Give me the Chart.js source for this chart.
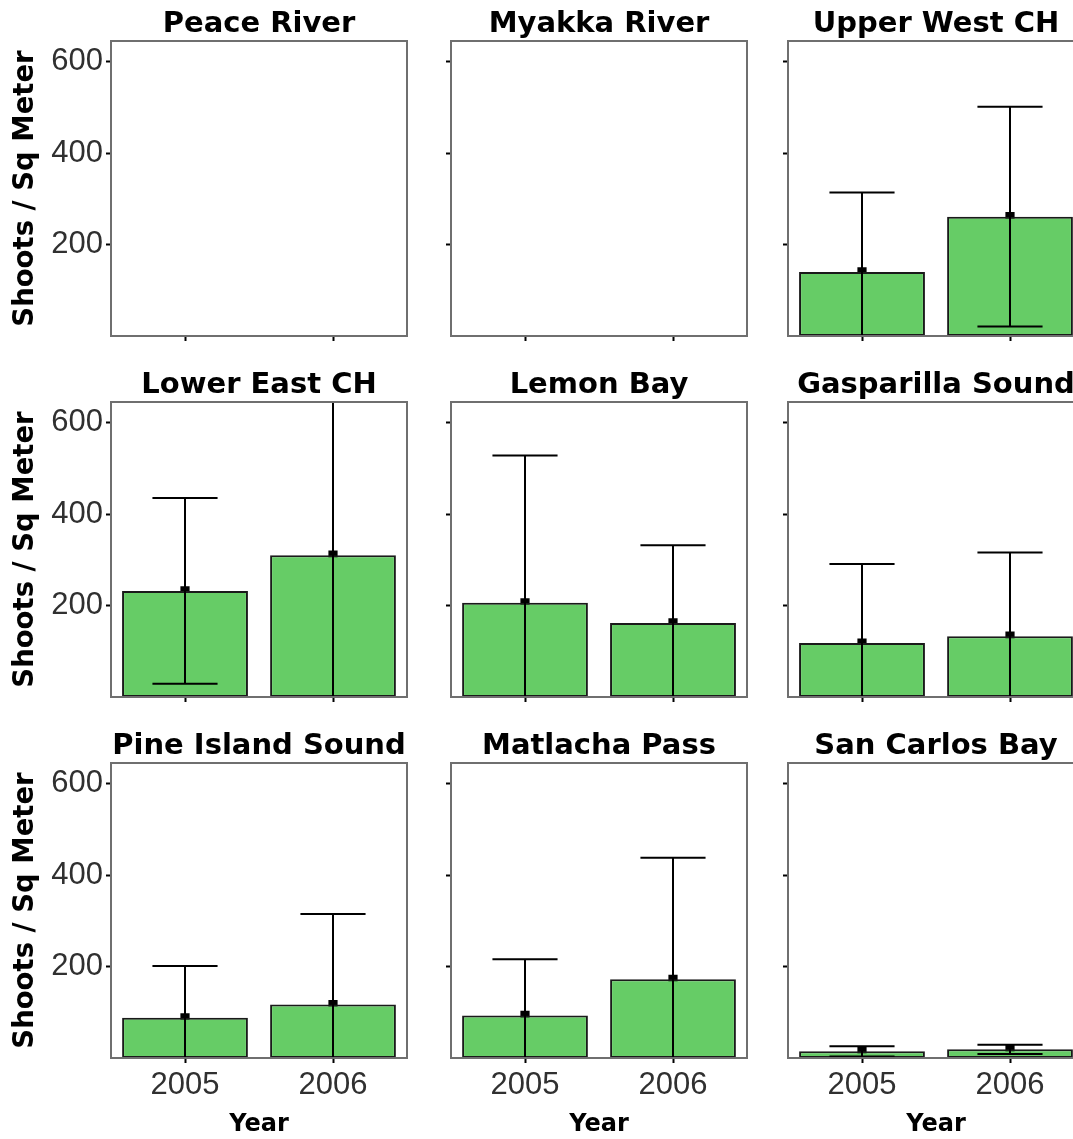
<!DOCTYPE html>
<html>
<head>
<meta charset="utf-8">
<title>Shoots per square meter by region</title>
<script src="https://cdn.jsdelivr.net/npm/chart.js@4.4.1/dist/chart.umd.min.js"></script>
<style>
  html, body { margin: 0; padding: 0; background: #fff; overflow: hidden; }
  #grid { position: relative; width: 1073px; height: 1139px; overflow: hidden; background: #fff; }
  #grid canvas { position: absolute; }
</style>
</head>
<body>
<div id="grid"></div>
<script>
// Mean shoot density (shoots / m²) with ±1 SD, by region and year
const regions = ['Peace River', 'Myakka River', 'Upper West CH',
                 'Lower East CH', 'Lemon Bay', 'Gasparilla Sound',
                 'Pine Island Sound', 'Matlacha Pass', 'San Carlos Bay'];
const years = ['2005', '2006'];
const mean2005 = [null, null, 140, 232, 206, 118, 88, 93, 14.5];
const mean2006 = [null, null, 261, 310, 162, 133, 117, 172, 19];
const sd2005   = [null, null, 174, 203, 322, 173, 113, 123, 11];
const sd2006   = [null, null, 240, 360, 170, 183, 198, 266, 10];
const yTicks = [200, 400, 600];
const yMax = 645;

// panel grid geometry
const colLeft = [0, 420, 757];
const colAxisW = [111, 31, 31];
const rowTop = [0, 361, 722];
const xAxisH = [10, 10, 81];
const plotW = 296, plotH = 295, titleH = 41, padRight = 4;

const tickFont = { family: "'Liberation Sans', Arial, sans-serif", size: 31 };
const boldFamily = "'DejaVu Sans', sans-serif";

// whiskers: mean ± sd, clipped to the panel
const errorBars = {
  id: 'errorBars',
  afterDatasetsDraw(chart, args, opts) {
    const { ctx, chartArea, scales: { x, y } } = chart;
    const k = opts.index;
    const means = [mean2005[k], mean2006[k]];
    const sds = [sd2005[k], sd2006[k]];
    const cap = (x.getPixelForValue(1) - x.getPixelForValue(0)) * 0.22;
    ctx.save();
    ctx.beginPath();
    ctx.rect(chartArea.left, chartArea.top, chartArea.right - chartArea.left, chartArea.bottom - chartArea.top);
    ctx.clip();
    ctx.strokeStyle = '#000';
    ctx.lineWidth = 2;
    means.forEach((m, i) => {
      if (m == null) return;
      const px = x.getPixelForValue(i);
      const hi = y.getPixelForValue(m + sds[i]);
      const lo = y.getPixelForValue(m - sds[i]);
      ctx.beginPath();
      ctx.moveTo(px, hi); ctx.lineTo(px, lo);
      ctx.moveTo(px - cap, hi); ctx.lineTo(px + cap, hi);
      ctx.moveTo(px - cap, lo); ctx.lineTo(px + cap, lo);
      ctx.stroke();
    });
    ctx.restore();
  }
};

// grey panel frame
const panelFrame = {
  id: 'panelFrame',
  afterDraw(chart) {
    const { ctx, chartArea: a } = chart;
    ctx.save();
    ctx.strokeStyle = '#6f6f6f';
    ctx.lineWidth = 2;
    ctx.strokeRect(a.left, a.top, a.right - a.left, a.bottom - a.top);
    ctx.restore();
  }
};

const grid = document.getElementById('grid');

regions.forEach((name, k) => {
  const r = Math.floor(k / 3), c = k % 3;
  const canvas = document.createElement('canvas');
  const w = colAxisW[c] + plotW + padRight;
  const h = titleH + plotH + xAxisH[r];
  canvas.width = w; canvas.height = h;
  canvas.style.width = w + 'px'; canvas.style.height = h + 'px';
  canvas.style.left = colLeft[c] + 'px';
  canvas.style.top = rowTop[r] + 'px';
  grid.appendChild(canvas);

  const means = [mean2005[k], mean2006[k]];

  new Chart(canvas, {
    type: 'bar',
    data: {
      labels: years,
      datasets: [
        {
          type: 'bar',
          data: means,
          backgroundColor: '#66CC66',
          borderColor: '#1a1a1a',
          borderWidth: 2,
          borderSkipped: false,
          barPercentage: 0.85,
          categoryPercentage: 1
        },
        {
          type: 'line',
          data: means,
          showLine: false,
          pointStyle: 'rect',
          pointRadius: 6.5,
          pointBackgroundColor: '#000',
          pointBorderColor: '#000',
          pointBorderWidth: 0
        }
      ]
    },
    options: {
      responsive: false,
      animation: false,
      devicePixelRatio: 1,
      layout: { autoPadding: false, padding: { left: 0, right: padRight, top: 0, bottom: 0 } },
      plugins: {
        legend: { display: false },
        tooltip: { enabled: false },
        title: {
          display: true,
          text: name,
          fullSize: false,
          color: '#000',
          font: { family: boldFamily, weight: 'bold', size: 29, lineHeight: 1 },
          padding: { top: 9.5, bottom: 2.5 }
        },
        errorBars: { index: k }
      },
      scales: {
        x: {
          offset: true,
          afterFit: s => { s.height = xAxisH[r]; s.paddingLeft = 0; s.paddingRight = 0; },
          ticks: { display: r === 2, font: tickFont, color: '#303030', padding: 4, maxRotation: 0, autoSkip: false },
          grid: { offset: false, drawOnChartArea: false, drawTicks: true, tickLength: 5, tickColor: '#000', tickWidth: 2 },
          border: { display: false },
          title: {
            display: r === 2,
            text: 'Year',
            color: '#000',
            font: { family: boldFamily, weight: 'bold', size: 24, lineHeight: 1 },
            padding: { top: 0, bottom: 2 }
          }
        },
        y: {
          min: 0,
          max: yMax,
          afterBuildTicks: s => { s.ticks = yTicks.map(v => ({ value: v })); },
          afterFit: s => { s.width = colAxisW[c]; s.paddingTop = 0; s.paddingBottom = 0; },
          ticks: { display: c === 0, font: tickFont, color: '#303030', padding: 3 },
          grid: { drawOnChartArea: false, drawTicks: true, tickLength: 5, tickColor: '#000', tickWidth: 2 },
          border: { display: false },
          title: {
            display: c === 0,
            text: 'Shoots / Sq Meter',
            color: '#000',
            font: { family: boldFamily, weight: 'bold', size: 27.5, lineHeight: 1 },
            padding: { top: 12, bottom: 0 }
          }
        }
      }
    },
    plugins: [errorBars, panelFrame]
  });
});
</script>
</body>
</html>
